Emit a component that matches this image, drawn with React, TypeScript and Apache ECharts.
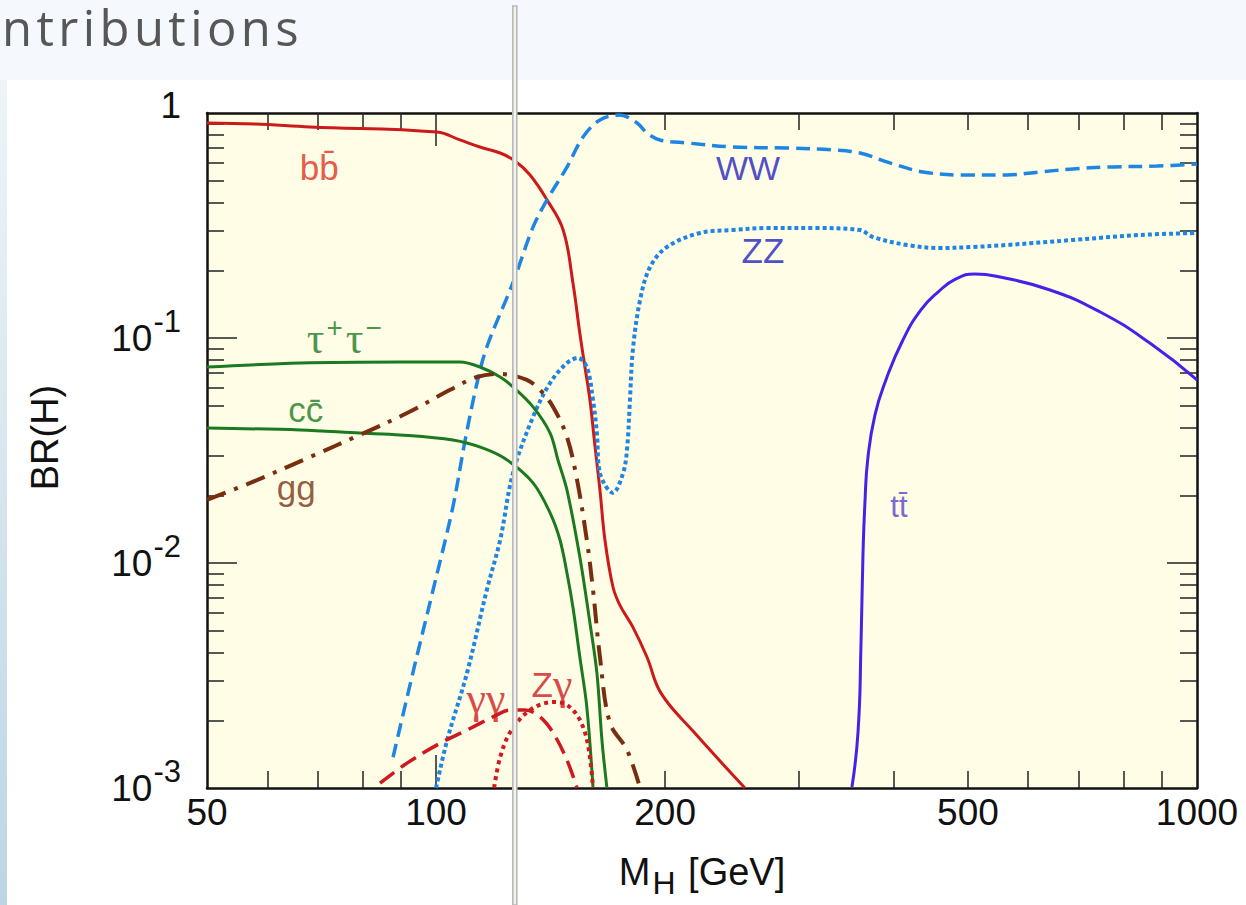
import React, { useEffect, useRef } from "react";
import * as echarts from "echarts";

// ---------- data (M_H in GeV, branching ratio) ----------
const bbM = [50, 57.8, 68.3, 100.3, 107.5, 114.2, 121.4, 127, 132.9, 139.9, 146.9, 151.3, 154.5, 156.9, 159.3, 161.7, 164.2, 166.7, 170.8, 174.4, 181.4, 189.3, 197.5, 217.6, 254.6];
const bbBR = [0.903, 0.894, 0.867, 0.823, 0.759, 0.706, 0.664, 0.612, 0.53, 0.411, 0.302, 0.176, 0.105, 0.0743, 0.053, 0.0334, 0.0211, 0.01265, 0.00782, 0.0065, 0.00519, 0.00382, 0.00264, 0.00179, 0.001];

const wwM = [87.8, 93.2, 99.1, 105.2, 109.2, 113.2, 116.6, 126.2, 134.1, 139.9, 148.6, 156, 164.2, 174.4, 183.7, 189.3, 196.9, 213.7, 245.6, 289.1, 332.3, 360.6, 394.9, 436.5, 492.5, 562.5, 621.5, 686.9, 761.6, 886, 1000];
const wwBR = [0.00137, 0.00324, 0.00759, 0.0177, 0.0352, 0.0631, 0.0912, 0.176, 0.311, 0.411, 0.575, 0.782, 0.931, 0.98, 0.903, 0.815, 0.759, 0.736, 0.706, 0.699, 0.685, 0.664, 0.6, 0.547, 0.53, 0.53, 0.547, 0.564, 0.575, 0.581, 0.593];

const zzM = [100, 103.4, 109.8, 116.6, 121.4, 126.2, 134.1, 141.2, 148.6, 153.6, 157.8, 160.8, 162.7, 164.2, 170.8, 176.1, 178.2, 179.8, 181.4, 185.4, 191.1, 201.1, 222.2, 245.6, 272.2, 316.7, 360.6, 375.1, 415.9, 459.5, 507.6, 562.5, 686.9, 841.5, 1000];
const zzBR = [0.001, 0.00163, 0.00324, 0.00759, 0.01265, 0.0251, 0.0446, 0.0631, 0.0774, 0.0815, 0.0743, 0.053, 0.0378, 0.0251, 0.0205, 0.0251, 0.0318, 0.053, 0.0886, 0.1476, 0.2068, 0.2538, 0.293, 0.302, 0.308, 0.308, 0.302, 0.281, 0.259, 0.251, 0.2538, 0.259, 0.2727, 0.287, 0.293];

const ttM = [352, 358.6, 361.8, 363.9, 366.1, 369.4, 377.4, 390.1, 410.7, 433.7, 456.7, 482.2, 510.6, 551, 641, 746, 867, 1000];
const ttBR = [0.00101, 0.00179, 0.00441, 0.01074, 0.01848, 0.0293, 0.0455, 0.0651, 0.098, 0.1332, 0.16, 0.183, 0.1925, 0.1866, 0.1634, 0.1305, 0.095, 0.0651];

const tautauM = [50, 66.3, 89.7, 107.5, 114.2, 121.4, 126.2, 134.1, 141.2, 144.6, 148.6, 154.5, 159.3, 162.7, 165.2, 167.7];
const tautauBR = [0.0743, 0.0774, 0.0782, 0.0782, 0.0743, 0.0671, 0.0606, 0.0494, 0.0378, 0.0287, 0.0211, 0.01063, 0.00541, 0.00324, 0.00163, 0.001];

const ccM = [50, 66.3, 79.4, 89.7, 105.2, 115.3, 124, 134.1, 141.2, 145.5, 148.6, 151.3, 154.5, 157.8, 160.8];
const ccBR = [0.0398, 0.039, 0.0378, 0.0371, 0.0352, 0.0324, 0.0287, 0.0227, 0.0167, 0.01265, 0.00903, 0.00637, 0.00382, 0.00229, 0.001];

const ggM = [50, 57, 68.3, 79.4, 91.6, 104.2, 113.2, 121.4, 131.6, 137, 142.5, 148.6, 153.2, 157.8, 160.8, 164.2, 169.2, 178.2, 185.4];
const ggBR = [0.0191, 0.0227, 0.0296, 0.0371, 0.0464, 0.0587, 0.0671, 0.0692, 0.0651, 0.0587, 0.0494, 0.0363, 0.0234, 0.01265, 0.00759, 0.00382, 0.00195, 0.001476, 0.001];

const gagaM = [84.4, 91.6, 101.2, 109.8, 118.8, 125, 130.9, 137, 142.5, 148.6, 153.2];
const gagaBR = [0.00105, 0.00129, 0.00158, 0.00181, 0.00207, 0.00222, 0.00222, 0.00207, 0.00176, 0.00133, 0.001];

const zgaM = [119.2, 121.4, 125.4, 132.9, 142.5, 148.6, 154.5, 158.4, 160.8];
const zgaBR = [0.001, 0.00137, 0.00179, 0.00222, 0.00241, 0.00234, 0.00201, 0.00155, 0.001];

// channel labels placed in data coordinates
const labelTexts = ["bb\u0304", "WW", "ZZ", "{g|τ}{s|+}{g|τ}{s|−}", "cc\u0304", "gg", "tt\u0304", "{g|γγ}", "Z{g|γ}"];
const labelM = [70.2, 257, 268.9, 76.1, 67.4, 65.5, 405.8, 116.3, 142];
const labelBR = [0.575, 0.569, 0.246, 0.1, 0.0479, 0.0216, 0.0179, 0.00251, 0.00288];

// axis ticks and labels
const xLabelValues = [50, 100, 200, 500, 1000];
const xMinorTicks = [60, 70, 80, 90, 200, 300, 400, 500, 600, 700, 800, 900];
const xMajorTicks = [100];
const yLabelValues = [0.001, 0.01, 0.1, 1];
const yMinorTicks = [0.002, 0.003, 0.004, 0.005, 0.006, 0.007, 0.008, 0.009, 0.02, 0.03, 0.04, 0.05, 0.06, 0.07, 0.08, 0.09, 0.2, 0.3, 0.4, 0.5, 0.6, 0.7, 0.8, 0.9];
const yMajorTicks = [0.01, 0.1];
const higgsMarkerM = 125;

const L = Math.log10;
const pts = (ms: number[], brs: number[]) => ms.map((m, i) => [L(m), L(brs[i])]);

const FONT = "'Liberation Sans', Arial, Helvetica, sans-serif";
const SERIF = "'Liberation Serif', 'DejaVu Serif', serif";

export default function App() {
  const ref = useRef<HTMLDivElement>(null);

  useEffect(() => {
    if (!ref.current) return;
    const chart = echarts.init(ref.current, undefined, { renderer: "svg" });

    const xmin = L(50);
    const xmax = L(1000);
    const ymin = L(0.001);
    const ymax = 0;

    const axisLineStyle = { color: "#111", width: 2.5 };
    const tickStyle = { color: "#222", width: 1.5 };

    const xBase = (pos: "bottom" | "top", ticks: number[], len: number, showLine: boolean, labels: boolean): any => ({
      type: "value",
      position: pos,
      min: xmin,
      max: xmax,
      axisLine: { show: showLine, onZero: false, lineStyle: axisLineStyle },
      axisTick: { show: true, inside: true, length: len, customValues: ticks.map(L), lineStyle: tickStyle },
      axisLabel: labels
        ? {
            show: true,
            customValues: xLabelValues.map(L),
            formatter: (v: number) => String(Math.round(Math.pow(10, v))),
            fontSize: 37,
            fontFamily: FONT,
            color: "#111",
            margin: 6,
          }
        : { show: false },
      splitLine: { show: false },
    });

    const yBase = (pos: "left" | "right", ticks: number[], len: number, showLine: boolean, labels: boolean): any => ({
      type: "value",
      position: pos,
      min: ymin,
      max: ymax,
      axisLine: { show: showLine, onZero: false, lineStyle: axisLineStyle },
      axisTick: { show: true, inside: true, length: len, customValues: ticks.map(L), lineStyle: tickStyle },
      axisLabel: labels
        ? {
            show: true,
            customValues: yLabelValues.map(L),
            formatter: (v: number) => {
              const e = Math.round(v);
              return e === 0 ? "{one|1}" : `10{sup|${e}}`;
            },
            fontSize: 37,
            fontFamily: FONT,
            color: "#111",
            margin: 26,
            rich: {
              sup: { fontSize: 31, fontFamily: FONT, color: "#111", padding: [0, 0, 34, 1] },
              one: { fontSize: 37, fontFamily: FONT, color: "#111", padding: [0, 0, 16, 0] },
            },
          }
        : { show: false },
      splitLine: { show: false },
    });

    const xAxes = [
      {
        ...xBase("bottom", xMinorTicks, 17, true, true),
        name: "M{sub|H} [GeV]",
        nameLocation: "middle",
        nameGap: 57,
        nameTextStyle: {
          fontSize: 38,
          fontFamily: FONT,
          color: "#111",
          rich: { sub: { fontSize: 32, fontFamily: FONT, color: "#111", padding: [22, 2, 0, 2] } },
        },
      },
      xBase("bottom", xMajorTicks, 33, false, false),
      xBase("top", xMinorTicks, 17, true, false),
      xBase("top", xMajorTicks, 33, false, false),
    ];

    const yAxes = [
      {
        ...yBase("left", yMinorTicks, 17, true, true),
        name: "BR(H)",
        nameLocation: "middle",
        nameRotate: 90,
        nameGap: 143,
        nameTextStyle: { fontSize: 38, fontFamily: FONT, color: "#111", padding: [0, 0, 0, 26] },
      },
      yBase("left", yMajorTicks, 30, false, false),
      yBase("right", yMinorTicks, 17, true, false),
      yBase("right", yMajorTicks, 30, false, false),
    ];

    const line = (name: string, ms: number[], brs: number[], color: string, width: number, type: any, smooth = 0.35): any => ({
      type: "line",
      name,
      data: pts(ms, brs),
      symbol: "none",
      showSymbol: false,
      smooth,
      clip: true,
      lineStyle: { color, width, type, cap: "butt" },
      silent: true,
    });

    const labelColors = ["#e0301f", "#1f22c0", "#1f22c0", "#1b7a1f", "#1b7a1f", "#7a3414", "#5640cc", "#d01820", "#d01820"];
    const labelSizes = [35, 34, 35, 36, 35, 35, 31, 36, 35];

    const labelSeries: any = {
      type: "scatter",
      name: "labels",
      symbolSize: 1,
      itemStyle: { color: "rgba(0,0,0,0)" },
      silent: true,
      z: 5,
      data: labelTexts.map((t, i) => ({
        value: [L(labelM[i]), L(labelBR[i])],
        label: {
          show: true,
          position: "inside",
          formatter: t,
          color: labelColors[i],
          fontSize: labelSizes[i],
          fontFamily: FONT,
          rich: {
            g: { fontSize: 44, fontFamily: SERIF, fontStyle: "normal", color: labelColors[i] },
            s: { fontSize: 28, fontFamily: FONT, color: labelColors[i], padding: [0, 3, 22, 2] },
          },
        },
      })),
    };

    chart.setOption({
      animation: false,
      backgroundColor: "transparent",
      grid: {
        left: 207,
        top: 113,
        width: 990,
        height: 675,
        show: true,
        backgroundColor: "#fffde6",
        borderWidth: 0,
        containLabel: false,
        outerBoundsMode: "none",
      },
      xAxis: xAxes,
      yAxis: yAxes,
      series: [
        line("bb", bbM, bbBR, "#cc1a1a", 3, "solid", 0.4),
        line("WW", wwM, wwBR, "#1e86e2", 3.5, [14, 7]),
        line("ZZ", zzM, zzBR, "#1e86e2", 4, [4, 3]),
        line("tt", ttM, ttBR, "#4622e8", 3, "solid", 0.5),
        line("tautau", tautauM, tautauBR, "#1b7a1f", 3, "solid"),
        line("cc", ccM, ccBR, "#1b7a1f", 3, "solid"),
        line("gg", ggM, ggBR, "#7a2e10", 4, [20, 9, 4, 9]),
        line("gammagamma", gagaM, gagaBR, "#d01820", 3.5, [18, 8]),
        line("Zgamma", zgaM, zgaBR, "#d01820", 4, [4, 4]),
        labelSeries,
      ],
    });

    // Higgs-mass marker (double grey rule spanning the page) at M = 125 GeV
    const px = chart.convertToPixel({ xAxisIndex: 0 }, L(higgsMarkerM)) as number;
    chart.setOption({
      graphic: {
        elements: [
          {
            type: "rect",
            z: 100,
            silent: true,
            shape: { x: px + 3, y: 6, width: 4, height: 899 },
            style: { fill: "#f3f3ee", stroke: "#b9b9b9", lineWidth: 1.6 },
          },
        ],
      },
    });

    return () => chart.dispose();
  }, []);

  return (
    <div style={{ position: "fixed", left: 0, top: 0, width: 1246, height: 905, background: "#ffffff", overflow: "hidden" }}>
      <div style={{ position: "absolute", left: 0, top: 0, width: 1246, height: 80, background: "#f5f8fc" }} />
      <div
        style={{
          position: "absolute",
          left: 0,
          top: 80,
          width: 7,
          height: 825,
          background: "linear-gradient(#eef4f8, #bcd5e4)",
        }}
      />
      <div
        style={{
          position: "absolute",
          left: 2,
          top: 3,
          fontFamily: "'Open Sans', 'Noto Sans', sans-serif",
          fontWeight: 400,
          fontSize: 49,
          lineHeight: "49px",
          letterSpacing: "4.4px",
          color: "#575757",
          whiteSpace: "nowrap",
        }}
      >
        ntributions
      </div>
      <div ref={ref} style={{ position: "absolute", left: 0, top: 0, width: 1246, height: 905 }} />
    </div>
  );
}
